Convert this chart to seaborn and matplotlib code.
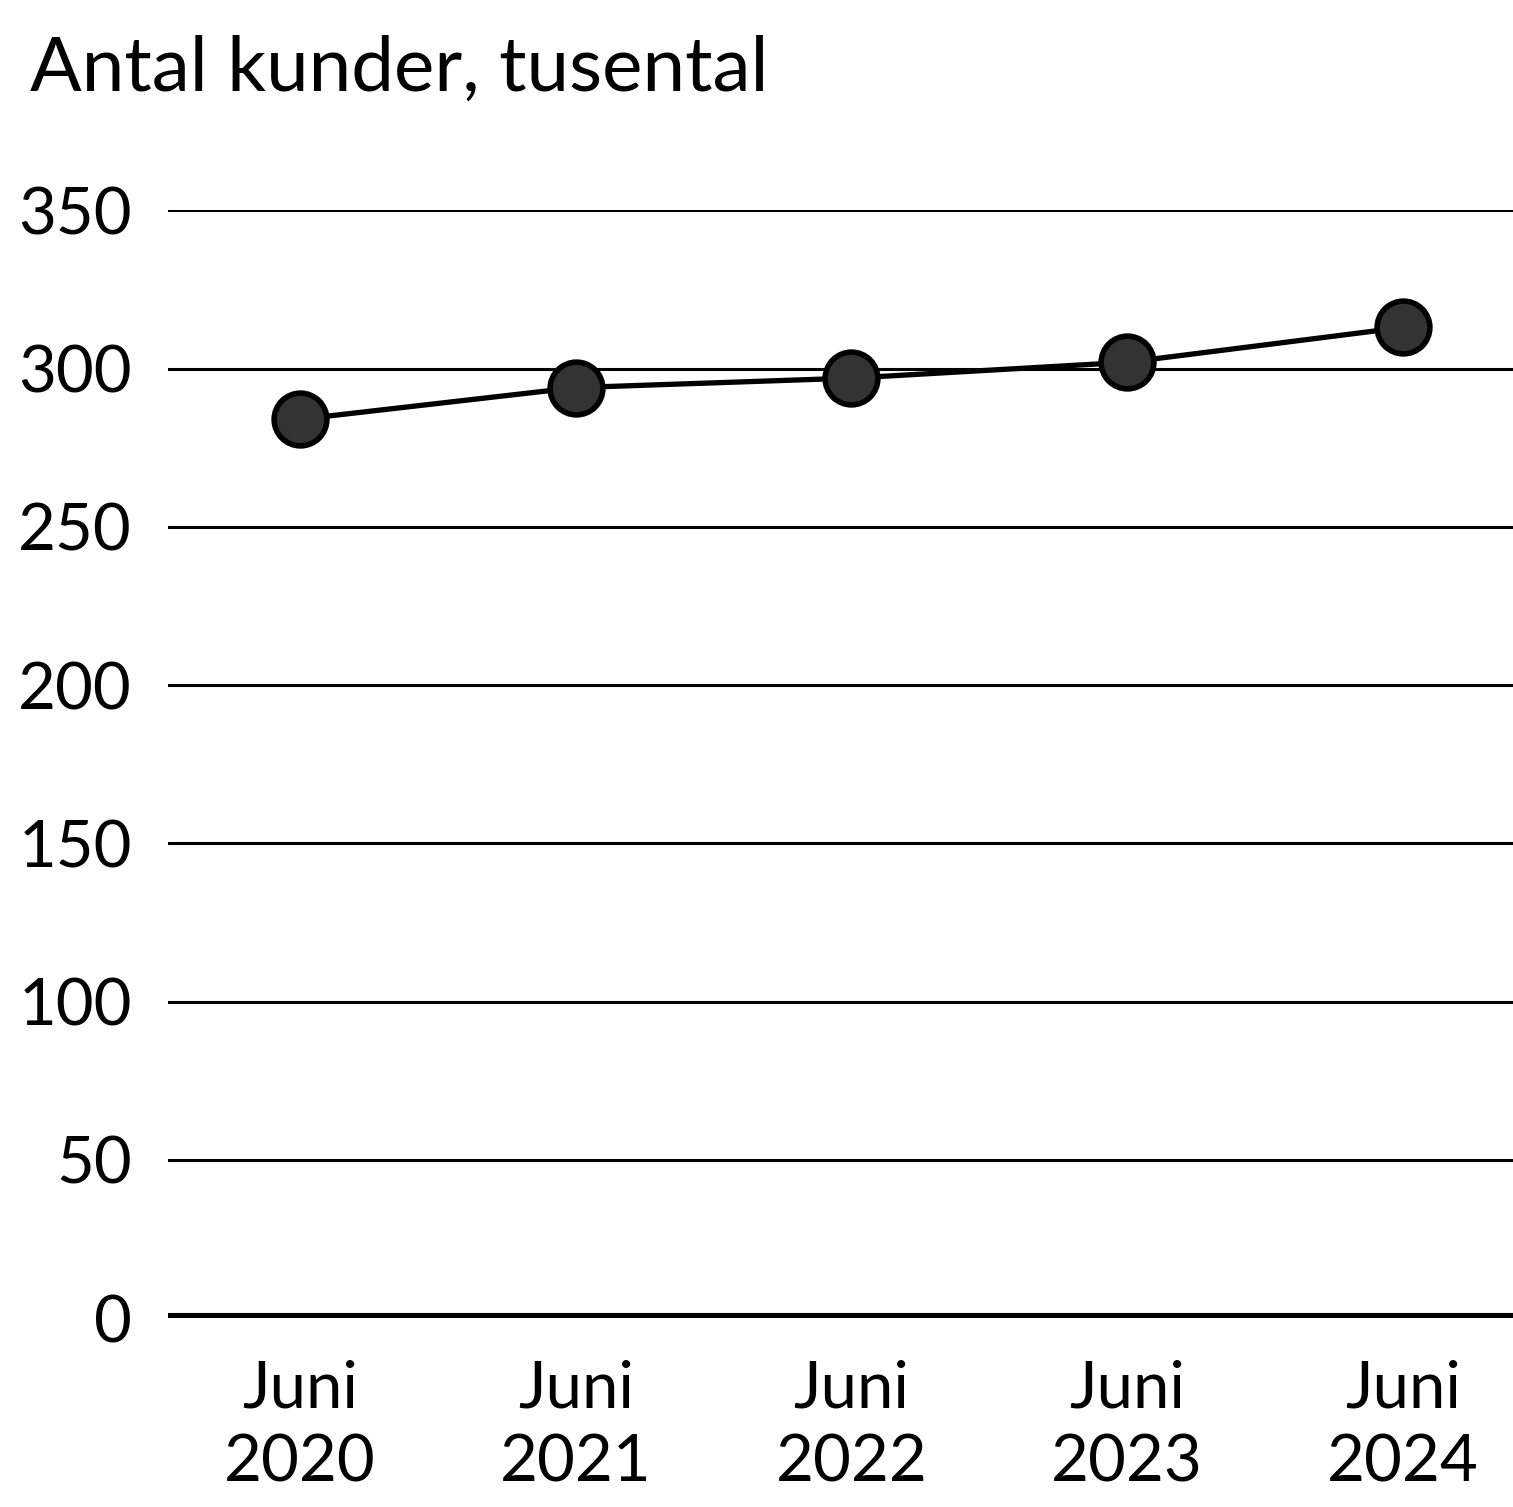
import matplotlib
matplotlib.use('Agg')
import matplotlib.pyplot as plt
import seaborn as sns
import pandas as pd

# data
years = ["2020", "2021", "2022", "2023", "2024"]
tick_labels = ["Juni\n2020", "Juni\n2021", "Juni\n2022", "Juni\n2023", "Juni\n2024"]
customers = [284, 294, 297, 302, 313]
y_ticks = [0, 50, 100, 150, 200, 250, 300, 350]

df = pd.DataFrame({"pos": range(len(years)), "kunder": customers})

sns.set_theme(style="white")
plt.rcParams['font.family'] = ['Lato', 'DejaVu Sans']
plt.rcParams['text.color'] = 'black'
plt.rcParams['xtick.color'] = 'black'
plt.rcParams['ytick.color'] = 'black'

fig = plt.figure(figsize=(15.13, 15.07), dpi=100)
ax = fig.add_axes([0.111, 0.1254, 0.889, 0.735])

for t in y_ticks[1:]:
    ax.axhline(t, color="black", lw=2.2, zorder=1)
ax.axhline(0, color="black", lw=8, zorder=1)

sns.lineplot(data=df, x="pos", y="kunder", ax=ax, color="black", lw=3.8,
             marker="o", markersize=38, markerfacecolor="#333333",
             markeredgecolor="black", markeredgewidth=4, zorder=3)

ax.set_xlim(-0.48, 4.4)
ax.set_ylim(0, 350)
ax.set_xticks(range(len(years)))
ax.set_xticklabels(tick_labels, fontsize=47, linespacing=1.3)
ax.set_yticks(y_ticks)
ax.set_yticklabels([str(v) for v in y_ticks], fontsize=47)
ax.tick_params(axis="x", length=0, pad=30)
ax.tick_params(axis="y", length=0, pad=26)
ax.set_xlabel("")
ax.set_ylabel("")
for s in ax.spines.values():
    s.set_visible(False)

fig.text(0.02, 0.94, "Antal kunder, tusental", fontsize=55, ha="left", va="baseline")

fig.savefig("out.png", dpi=100, facecolor="white")
